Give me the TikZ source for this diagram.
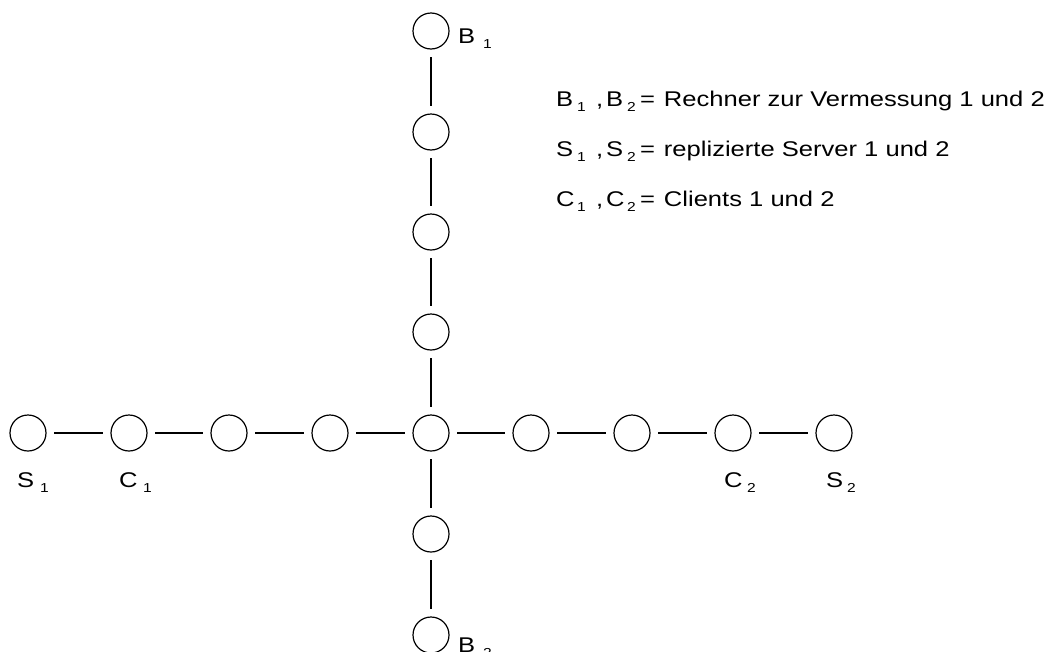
\documentclass[tikz,border=0pt]{standalone}
\usepackage{fontspec}
\setmainfont{Liberation Sans}[FakeStretch=1.2]
\newcommand{\lsub}[1]{\raisebox{-5pt}{\fontsize{13}{15}\selectfont #1}}
\newcommand{\lbl}[3]{\makebox[#1][l]{#2}\lsub{#3}}
\newcommand{\legpre}[1]{\makebox[21pt][l]{#1}\makebox[19pt][l]{\lsub{1}}\makebox[10pt][l]{,}\makebox[21pt][l]{#1}\makebox[13pt][l]{\lsub{2}}\makebox[24pt][l]{=}}
\begin{document}
\begin{tikzpicture}[x=1pt,y=-1pt,
  every node/.style={font=\fontsize{21.3}{25}\selectfont},
  station/.style={circle,draw,line width=1.2pt,minimum size=36pt,inner sep=0pt},
  link/.style={line width=1.2pt,shorten >=7.5pt,shorten <=7.5pt},
  lab/.style={anchor=base west,inner sep=0pt,outer sep=0pt}]
\useasboundingbox (0,0) rectangle (1047,651);
% horizontal row
\node[station] (h1) at (28,433) {};
\node[station] (h2) at (129,433) {};
\node[station] (h3) at (229,433) {};
\node[station] (h4) at (330,433) {};
\node[station] (c)  at (431,433) {};
\node[station] (h6) at (531,433) {};
\node[station] (h7) at (632,433) {};
\node[station] (h8) at (733,433) {};
\node[station] (h9) at (834,433) {};
% vertical column
\node[station] (v1) at (431,31) {};
\node[station] (v2) at (431,132) {};
\node[station] (v3) at (431,232) {};
\node[station] (v4) at (431,332) {};
\node[station] (v6) at (431,534) {};
\node[station] (v7) at (431,635) {};
% links
\draw[link] (h1) -- (h2);
\draw[link] (h2) -- (h3);
\draw[link] (h3) -- (h4);
\draw[link] (h4) -- (c);
\draw[link] (c) -- (h6);
\draw[link] (h6) -- (h7);
\draw[link] (h7) -- (h8);
\draw[link] (h8) -- (h9);
\draw[link] (v1) -- (v2);
\draw[link] (v2) -- (v3);
\draw[link] (v3) -- (v4);
\draw[link] (v4) -- (c);
\draw[link] (c) -- (v6);
\draw[link] (v6) -- (v7);
% node labels
\node[lab] (lb1) at (458,43) {\lbl{25pt}{B}{1}};
\node[lab] (lb2) at (458,652) {\lbl{25pt}{B}{2}};
\node[lab] (ls1) at (17,487) {\lbl{23pt}{S}{1}};
\node[lab] (lc1) at (119,487) {\lbl{24pt}{C}{1}};
\node[lab] (lc2) at (724,487) {\lbl{23pt}{C}{2}};
\node[lab] (ls2) at (826,487) {\lbl{21pt}{S}{2}};
% legend
\node[lab] (leg1) at (556,106) {\legpre{B}Rechner zur Vermessung 1 und 2};
\node[lab] (leg2) at (556,156) {\legpre{S}replizierte Server 1 und 2};
\node[lab] (leg3) at (556,206) {\legpre{C}Clients 1 und 2};
\end{tikzpicture}
\end{document}
